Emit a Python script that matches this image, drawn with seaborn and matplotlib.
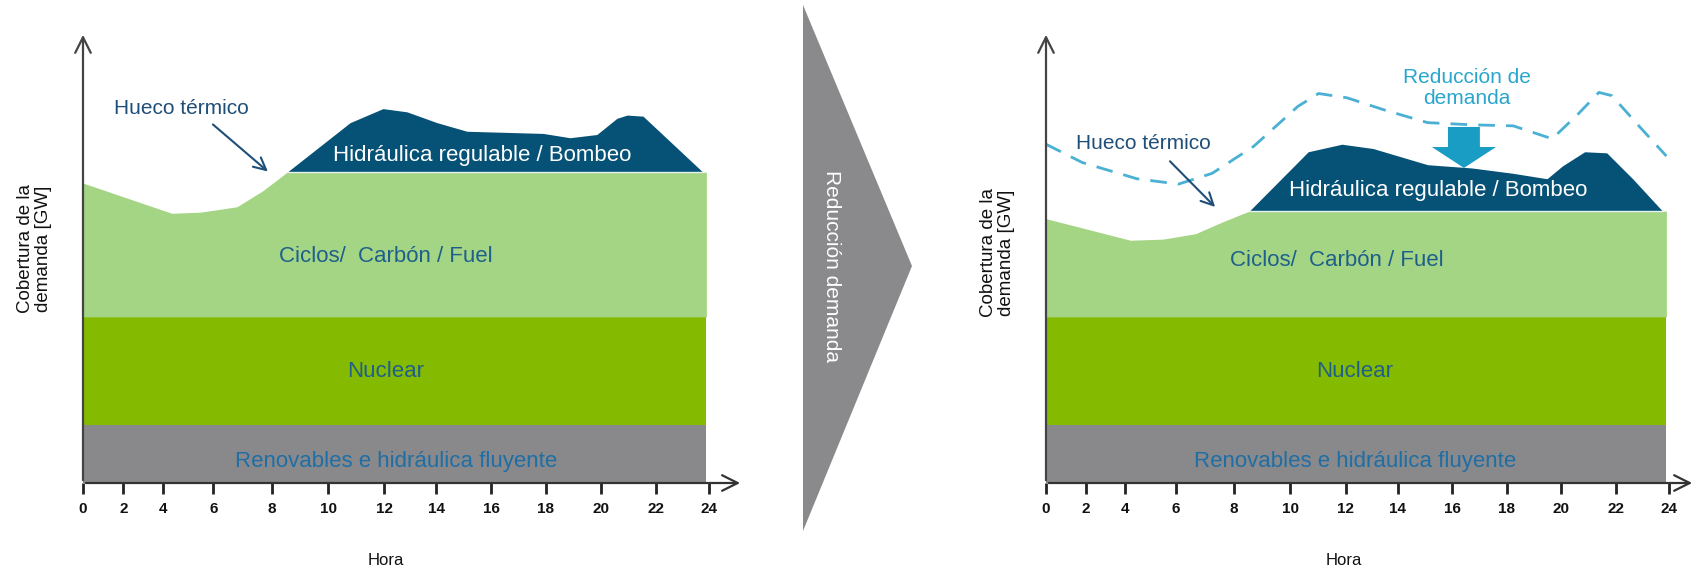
import numpy as np
import matplotlib
matplotlib.use("Agg")
import matplotlib.pyplot as plt
from matplotlib.patches import Polygon
import seaborn as sns

sns.set_theme(style="white")
plt.rcParams['font.family'] = ['Liberation Sans', 'DejaVu Sans']

# ---- data (hours on x, arbitrary GW units on y) ----
tick_labels = [0, 2, 4, 6, 8, 10, 12, 14, 16, 18, 20, 22, 24]
tick_pos = [0, 1.55, 3.05, 5.0, 7.25, 9.4, 11.55, 13.55, 15.65, 17.75, 19.85, 21.95, 24]

band_end = 23.9
renovables_top = 5.4
nuclear_top = 15.4

# before demand reduction
ciclos_h_before = [0, 3.4, 4.5, 5.9, 6.9, 7.82, 23.9]
ciclos_before = [27.8, 25.0, 25.1, 25.6, 27.1, 28.8, 28.8]
hydro_h_before = [7.82, 10.24, 11.5, 12.42, 13.57, 14.72, 17.64, 18.67, 19.7, 20.47, 20.86, 21.47, 23.77]
hydro_before = [28.8, 33.4, 34.7, 34.4, 33.4, 32.6, 32.4, 32.0, 32.3, 33.8, 34.1, 34.0, 28.8]

# after demand reduction
ciclos_h_after = [0, 3.25, 4.5, 5.75, 6.8, 7.83, 23.9]
ciclos_after = [24.5, 22.5, 22.6, 23.1, 24.2, 25.2, 25.2]
hydro_h_after = [7.83, 10.1, 11.4, 12.6, 14.7, 16.4, 18.0, 19.3, 19.9, 20.75, 21.6, 22.6, 23.75]
hydro_after = [25.2, 30.7, 31.4, 31.0, 29.5, 29.2, 28.7, 28.2, 29.4, 30.7, 30.6, 28.2, 25.2]

# original demand (dashed line on the right)
demand_h = [0, 1.4, 3.5, 5.1, 6.4, 8.0, 9.7, 10.5, 11.6, 13.0, 14.7, 16.4, 18.0, 19.5, 20.5, 21.3, 21.8, 22.8, 23.9]
demand_orig = [31.4, 29.7, 28.2, 27.7, 28.7, 31.2, 34.9, 36.1, 35.7, 34.6, 33.4, 33.2, 33.1, 31.9, 34.2, 36.2, 35.9, 33.2, 30.3]

C_GREY = '#89898b'
C_NUC = '#84bb00'
C_CIC = '#a3d585'
C_HYD = '#065277'
C_TXT = '#1f5f8b'
C_LIGHTBLUE = '#2aa6cc'

W, H = 1696, 571
fig = plt.figure(figsize=(W / 100, H / 100), dpi=100)
ax_l = fig.add_axes([83 / W, 88 / H, 626 / W, 451 / H])
ax_r = fig.add_axes([1046 / W, 88 / H, 623 / W, 451 / H])


def draw_panel(ax, ciclos_h, ciclos, hydro_h, hydro, x_arrow, hora_x, ylab_y):
    ax.fill_between([0, band_end], 0, renovables_top, color=C_GREY, lw=0)
    ax.fill_between([0, band_end], renovables_top, nuclear_top, color=C_NUC, lw=0)
    ax.fill_between(ciclos_h, nuclear_top, ciclos, color=C_CIC, lw=0)
    base = np.interp(hydro_h, ciclos_h, ciclos)
    ax.fill_between(hydro_h, base, hydro, color=C_HYD, lw=0)
    ax.plot([hydro_h[0], hydro_h[-1]], [base[0], base[-1]], color='#e8f2f0', lw=1)

    ax.set_xlim(0, 24)
    ax.set_ylim(0, 41.8)
    sns.despine(ax=ax, left=True, bottom=True, top=True, right=True)

    # axis arrows
    ax.annotate('', xy=(x_arrow, 0), xytext=(0, 0), annotation_clip=False,
                arrowprops=dict(arrowstyle='->', color='#333333', lw=1.6, mutation_scale=28))
    ax.annotate('', xy=(0, 41.8), xytext=(0, 0), annotation_clip=False,
                arrowprops=dict(arrowstyle='->', color='#444444', lw=1.6, mutation_scale=28))

    ax.set_xticks(tick_pos)
    ax.set_xticklabels(tick_labels, fontsize=11, fontweight='bold', color='#111111')
    ax.tick_params(axis='x', bottom=True, direction='out', length=8, width=2, color='#222222', pad=6)
    ax.set_yticks([])

    ax.set_xlabel('Hora', fontsize=12, color='#111111')
    ax.xaxis.set_label_coords(hora_x, -0.155)
    ax.set_ylabel('Cobertura de la\ndemanda [GW]', fontsize=13.5, color='#111111', linespacing=1.05)
    ax.yaxis.set_label_coords(-0.05, ylab_y)


draw_panel(ax_l, ciclos_h_before, ciclos_before, hydro_h_before, hydro_before, 25.3, 0.484, 0.52)
draw_panel(ax_r, ciclos_h_after, ciclos_after, hydro_h_after, hydro_after, 25.0, 0.478, 0.51)

# labels, left
ax_l.text(15.3, 30.4, 'Hidráulica regulable / Bombeo', color='white', fontsize=16, ha='center', va='center')
ax_l.text(11.6, 21.0, 'Ciclos/  Carbón / Fuel', color=C_TXT, fontsize=16, ha='center', va='center')
ax_l.text(11.6, 10.3, 'Nuclear', color=C_TXT, fontsize=16, ha='center', va='center')
ax_l.text(12.0, 2.0, 'Renovables e hidráulica fluyente', color='#1f6ea5', fontsize=16, ha='center', va='center')
ax_l.text(1.2, 34.7, 'Hueco térmico', color='#1f4e79', fontsize=15, ha='left', va='center')
ax_l.annotate('', xy=(7.17, 28.7), xytext=(4.9, 33.4),
              arrowprops=dict(arrowstyle='->', color='#1f4e79', lw=1.5, mutation_scale=22))

# labels, right
ax_r.text(15.1, 27.1, 'Hidráulica regulable / Bombeo', color='white', fontsize=16, ha='center', va='center')
ax_r.text(11.2, 20.6, 'Ciclos/  Carbón / Fuel', color=C_TXT, fontsize=16, ha='center', va='center')
ax_r.text(11.9, 10.3, 'Nuclear', color=C_TXT, fontsize=16, ha='center', va='center')
ax_r.text(11.9, 2.0, 'Renovables e hidráulica fluyente', color='#1f6ea5', fontsize=16, ha='center', va='center')
ax_r.text(1.16, 31.5, 'Hueco térmico', color='#1f4e79', fontsize=15, ha='left', va='center')
ax_r.annotate('', xy=(6.59, 25.4), xytext=(4.7, 30.0),
              arrowprops=dict(arrowstyle='->', color='#1f4e79', lw=1.5, mutation_scale=22))

sns.lineplot(x=demand_h, y=demand_orig, ax=ax_r, color='#4ab0d4', lw=2, dashes=False,
             linestyle=(0, (6, 4)))
ax_r.text(16.2, 36.6, 'Reducción de\ndemanda', color=C_LIGHTBLUE, fontsize=15, ha='center',
          va='center', linespacing=1.15)
ax_r.arrow(16.1, 33.0, 0, -3.8, width=1.23, head_width=2.47, head_length=1.94,
           length_includes_head=True, color='#1a9dc4', lw=0)

# middle chevron
chev = Polygon([(803 / W, 1 - 5 / H), (912 / W, 1 - 266 / H), (803 / W, 1 - 531 / H)],
               closed=True, transform=fig.transFigure, color='#8a8a8c', lw=0)
fig.add_artist(chev)
fig.text(831 / W, 1 - 266 / H, 'Reducción demanda', rotation=-90, color='white', fontsize=15,
         ha='center', va='center')

fig.savefig('out.png', dpi=100)
